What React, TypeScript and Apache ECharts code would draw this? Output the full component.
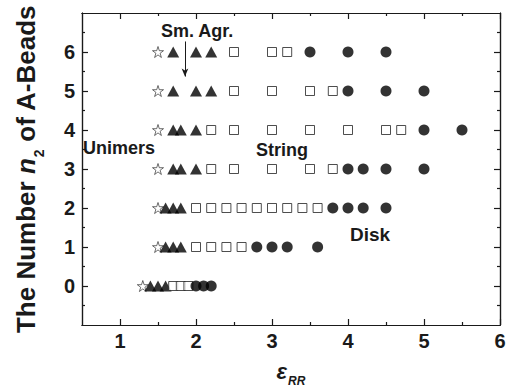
import React, { useEffect, useRef } from 'react';
import * as echarts from 'echarts';

// n2 rows 0..6 (index = number of A-beads)
const rows = [0, 1, 2, 3, 4, 5, 6];
const unimerX = [1.3, 1.5, 1.5, 1.5, 1.5, 1.5, 1.5];
const smAgrX = [
  [1.4, 1.5, 1.6],
  [1.6, 1.7, 1.8],
  [1.6, 1.7, 1.8],
  [1.7, 1.8, 2.0],
  [1.7, 1.8, 2.0],
  [1.7, 2.0, 2.2],
  [1.7, 2.0, 2.2],
];
const stringX = [
  [1.7, 1.8, 1.9],
  [2.0, 2.2, 2.4, 2.6],
  [2.0, 2.2, 2.4, 2.6, 2.8, 3.0, 3.2, 3.4, 3.6],
  [2.2, 2.5, 3.0, 3.5, 3.8],
  [2.2, 2.5, 3.0, 3.5, 4.0, 4.5, 4.7],
  [2.5, 3.0, 3.5, 3.8],
  [2.5, 3.0, 3.2],
];
const diskX = [
  [2.0, 2.1, 2.2],
  [2.8, 3.0, 3.2, 3.6],
  [3.8, 4.0, 4.2, 4.5],
  [4.0, 4.2, 4.5, 5.0],
  [5.0, 5.5],
  [4.0, 4.5, 5.0],
  [3.5, 4.0, 4.5],
];
const xMajor = [1, 2, 3, 4, 5, 6];
const xMinor = [1.5, 2.5, 3.5, 4.5, 5.5];
const yMajor = [0, 1, 2, 3, 4, 5, 6];
const yMinor = [-0.5, 0.5, 1.5, 2.5, 3.5, 4.5, 5.5, 6.5];
const arrowLine = [[1.855, 6.27], [1.855, 5.37]];

const FONT = '"Liberation Sans", Arial, Helvetica, sans-serif';
const INK = '#1a1a1a';
const STAR = 'path://M50 0 L61.23 34.55 L97.55 34.55 L68.16 55.9 L79.39 90.45 L50 69.1 L20.61 90.45 L31.84 55.9 L2.45 34.55 L38.77 34.55 Z';

const toPoints = (xs: number[][]) => rows.flatMap((n) => xs[n].map((x) => [x, n]));

export default function App() {
  const ref = useRef<HTMLDivElement>(null);
  useEffect(() => {
    document.body.style.margin = '0';
    const chart = echarts.init(ref.current!, null, { renderer: 'svg' });
    const lineStyle = { color: INK, width: 1.2 };
    const xAx = (position: string, vals: number[], len: number, labels: boolean, extra: any = {}) => ({
      type: 'value', position, min: 0.5, max: 6,
      axisLine: { show: true, onZero: false, lineStyle },
      splitLine: { show: false },
      axisTick: { show: true, inside: true, length: len, customValues: vals, lineStyle },
      axisLabel: labels
        ? { show: true, customValues: vals, fontSize: 20, fontWeight: 'bold', color: INK, fontFamily: FONT, margin: 6 }
        : { show: false },
      ...extra,
    });
    const yAx = (position: string, vals: number[], len: number, labels: boolean, extra: any = {}) => ({
      type: 'value', position, min: -1, max: 7,
      axisLine: { show: true, onZero: false, lineStyle },
      splitLine: { show: false },
      axisTick: { show: true, inside: true, length: len, customValues: vals, lineStyle },
      axisLabel: labels
        ? { show: true, customValues: vals, fontSize: 20, fontWeight: 'bold', color: INK, fontFamily: FONT, margin: 7 }
        : { show: false },
      ...extra,
    });
    const option: any = {
      animation: false,
      backgroundColor: '#fff',
      grid: { left: 82, right: 7, top: 13, bottom: 62, outerBoundsMode: 'none', containLabel: false },
      xAxis: [
        xAx('bottom', xMajor, 6, true, {
          name: '{e|ε}{s|RR}',
          nameLocation: 'middle',
          nameGap: 35,
          nameTextStyle: {
            rich: {
              e: { fontSize: 22, fontStyle: 'italic', fontWeight: 'bold', color: INK, fontFamily: FONT, lineHeight: 24, verticalAlign: 'top' },
              s: { fontSize: 12, fontStyle: 'italic', fontWeight: 'bold', color: INK, fontFamily: FONT, lineHeight: 12, padding: [15, 0, 0, 1], verticalAlign: 'top' },
            },
          },
        }),
        xAx('bottom', xMinor, 3, false),
        xAx('top', xMajor, 6, false),
        xAx('top', xMinor, 3, false),
      ],
      yAxis: [
        yAx('left', yMajor, 6, true, {
          name: '{a|The Number }{i|n}{s|2}{a| of A-Beads}',
          nameLocation: 'middle',
          nameRotate: 90,
          nameGap: 42,
          nameTextStyle: {
            rich: {
              a: { fontSize: 26, fontWeight: 'bold', color: INK, fontFamily: FONT, lineHeight: 27, verticalAlign: 'top' },
              i: { fontSize: 26, fontWeight: 'bold', fontStyle: 'italic', color: INK, fontFamily: FONT, lineHeight: 27, verticalAlign: 'top' },
              s: { fontSize: 14, fontWeight: 'bold', color: INK, fontFamily: FONT, lineHeight: 14, padding: [19, 0, 0, 1], verticalAlign: 'top' },
            },
          },
        }),
        yAx('left', yMinor, 3, false),
        yAx('right', yMajor, 6, false),
        yAx('right', yMinor, 3, false),
      ],
      series: [
        {
          type: 'scatter', name: 'Unimers', symbol: STAR, symbolSize: 11,
          itemStyle: { color: '#fff', borderColor: INK, borderWidth: 0.8 },
          data: rows.map((n) => [unimerX[n], n]),
          markLine: {
            silent: true, symbol: ['none', 'arrow'], symbolSize: [5, 8],
            lineStyle: { color: INK, width: 1, type: 'solid' },
            label: { show: false },
            data: [[{ coord: arrowLine[0] }, { coord: arrowLine[1] }]],
          },
        },
        {
          type: 'scatter', name: 'Sm. Agr.', symbol: 'triangle', symbolSize: [12, 11],
          itemStyle: { color: '#000' },
          data: toPoints(smAgrX),
        },
        {
          type: 'scatter', name: 'String', symbol: 'rect', symbolSize: 9,
          itemStyle: { color: '#fff', borderColor: '#222', borderWidth: 1 },
          data: toPoints(stringX),
        },
        {
          type: 'scatter', name: 'Disk', symbol: 'circle', symbolSize: 11,
          itemStyle: { color: '#000' },
          data: toPoints(diskX),
        },
      ],
      graphic: [
        { type: 'text', left: 161, top: 22, style: { text: 'Sm. Agr.', font: `bold 18px ${FONT}`, fill: INK } },
        { type: 'text', left: 83, top: 139, style: { text: 'Unimers', font: `bold 18px ${FONT}`, fill: INK } },
        { type: 'text', left: 256, top: 141, style: { text: 'String', font: `bold 18px ${FONT}`, fill: INK } },
        { type: 'text', left: 350, top: 225, style: { text: 'Disk', font: `bold 19px ${FONT}`, fill: INK } },
      ],
    };
    chart.setOption(option);
    return () => chart.dispose();
  }, []);
  return <div ref={ref} style={{ position: 'fixed', left: 0, top: 0, width: 507, height: 387 }} />;
}
